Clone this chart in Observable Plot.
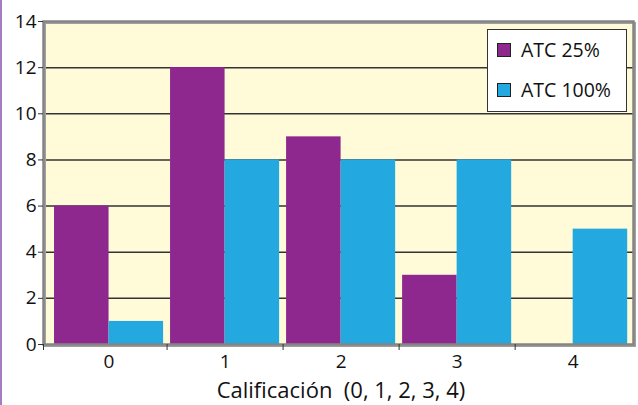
<!DOCTYPE html>
<html>
<head>
<meta charset="utf-8">
<script src="https://cdn.jsdelivr.net/npm/d3@7"></script>
<script src="https://cdn.jsdelivr.net/npm/@observablehq/plot@0.6"></script>
<style>
  html, body { margin: 0; padding: 0; background: #ffffff; }
  #wrap { position: relative; width: 638px; height: 405px; overflow: hidden; font-family: "Open Sans", sans-serif; color: #111; }
  #stripe { position: absolute; left: 0; top: 0; width: 2px; height: 405px; background: #a67dc3; }
  #chart { position: absolute; left: 0; top: 0; }
  #legend { position: absolute; left: 487px; top: 29px; width: 140px; height: 83px; background: #fff; border: 1.5px solid #333; box-sizing: border-box; }
  .item { position: absolute; left: 9px; height: 20px; display: flex; align-items: center; font-size: 19.5px; white-space: pre; line-height: 20px; }
  .sw { width: 14px; height: 14px; border: 1px solid #222; box-sizing: border-box; margin-right: 10px; }
  #title { position: absolute; left: 43px; width: 596px; top: 378px; text-align: center; font-size: 22px; line-height: 22px; white-space: pre; }
</style>
</head>
<body>
<div id="wrap">
  <div id="chart"></div>
  <div id="stripe"></div>
  <div id="legend"></div>
  <div id="title"></div>
</div>
<script>
const categories = [0, 1, 2, 3, 4];
const seriesNames = ["ATC 25%", "ATC 100%"];
const atc25 = [6, 12, 9, 3, 0];
const atc100 = [1, 8, 8, 8, 5];
const yTicks = [0, 2, 4, 6, 8, 10, 12, 14];
const seriesColors = ["#8e288e", "#24a8e0"];
const xTitle = "Calificación  (0, 1, 2, 3, 4)";

const rows = [];
categories.forEach((c, i) => {
  rows.push({cat: c, series: seriesNames[0], side: 0, value: atc25[i]});
  rows.push({cat: c, series: seriesNames[1], side: 1, value: atc100[i]});
});
const half = 0.47;
const boundaries = [-0.565, 0.5, 1.5, 2.5, 3.5];

const plot = Plot.plot({
  width: 638,
  height: 405,
  marginLeft: 43,
  marginRight: 5,
  marginTop: 21,
  marginBottom: 61,
  style: {fontFamily: "Open Sans, sans-serif", fontSize: "19px", color: "#111", background: "transparent"},
  x: {type: "linear", domain: [-0.565, 4.52]},
  y: {domain: [0, 14]},
  color: {domain: seriesNames, range: seriesColors},
  marks: [
    Plot.frame({fill: "#fffad8", stroke: null}),
    Plot.ruleY(yTicks.filter(v => v > 0 && v < 14), {stroke: "#333", strokeWidth: 1.5}),
    Plot.rectY(rows, {
      x1: d => d.cat - half + d.side * half,
      x2: d => d.cat + d.side * half,
      y1: 0,
      y2: "value",
      fill: "series"
    }),
    Plot.frame({stroke: "#a0a0a0", strokeWidth: 2, dx: 1.5, dy: 1.5}),
    Plot.frame({stroke: "#858585", strokeWidth: 2.5}),
    Plot.axisY({ticks: yTicks, tickSize: 5, tickPadding: 2, label: null, stroke: "#333"}),
    Plot.axisX({ticks: categories, tickSize: 0, tickPadding: 10, tickFormat: d => String(d), label: null}),
    Plot.axisX({ticks: boundaries, tickSize: 6, tickFormat: () => "", label: null, stroke: "#333"})
  ]
});
document.getElementById("chart").appendChild(plot);

const legend = document.getElementById("legend");
seriesNames.forEach((name, i) => {
  const item = document.createElement("div");
  item.className = "item";
  item.style.top = (i === 0 ? 10 : 50) + "px";
  const sw = document.createElement("div");
  sw.className = "sw";
  sw.style.background = seriesColors[i];
  item.appendChild(sw);
  item.appendChild(document.createTextNode(name));
  legend.appendChild(item);
});
document.getElementById("title").textContent = xTitle;
</script>
</body>
</html>
